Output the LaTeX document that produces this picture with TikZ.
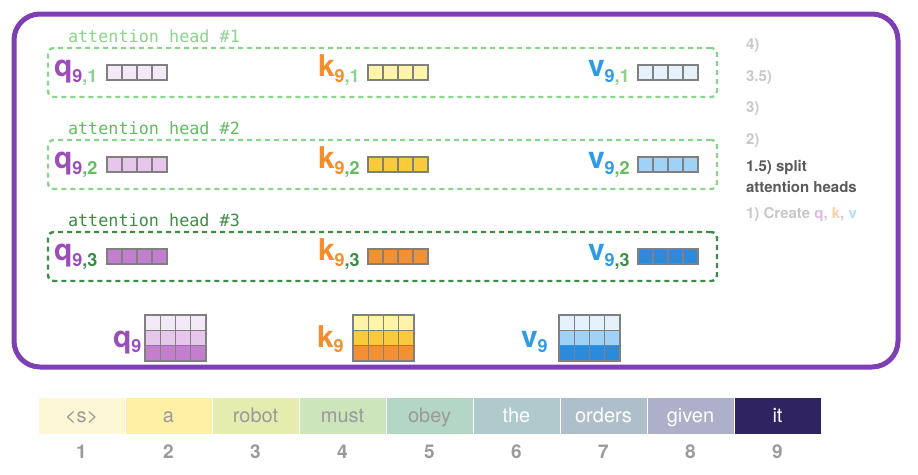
\documentclass[tikz,border=0pt]{standalone}
\usepackage{fontspec}
\setmainfont{TeX Gyre Heros}
\setmonofont{DejaVu Sans Mono}
\usetikzlibrary{positioning}

\definecolor{framecol}{HTML}{7E3FB2}
\definecolor{qcol}{HTML}{9B4DB8}
\definecolor{kcol}{HTML}{F28E2B}
\definecolor{vcol}{HTML}{2D9BE8}
\definecolor{headA}{HTML}{8BD48B}
\definecolor{headB}{HTML}{62BC62}
\definecolor{headC}{HTML}{3C8D44}
\definecolor{qA}{HTML}{F4E9F6}
\definecolor{qB}{HTML}{E6C6EA}
\definecolor{qC}{HTML}{C47ED0}
\definecolor{kA}{HTML}{FFF4A8}
\definecolor{kB}{HTML}{FBC93C}
\definecolor{kC}{HTML}{F29134}
\definecolor{vA}{HTML}{E6F2FB}
\definecolor{vB}{HTML}{9FD2F6}
\definecolor{vC}{HTML}{2B8ADA}
\definecolor{cellgray}{HTML}{808080}
\definecolor{stagegray}{HTML}{C8C8C8}
\definecolor{stagedark}{HTML}{5A5A5A}
\definecolor{numgray}{HTML}{9A9A9A}
\definecolor{tokA}{HTML}{FEF7D6}
\definecolor{tokB}{HTML}{FEF0A5}
\definecolor{tokC}{HTML}{E4EDAE}
\definecolor{tokD}{HTML}{CDE5BA}
\definecolor{tokE}{HTML}{B3D6C5}
\definecolor{tokF}{HTML}{AECACD}
\definecolor{tokG}{HTML}{AFBECB}
\definecolor{tokH}{HTML}{AEB0CA}
\definecolor{tokI}{HTML}{2F2461}

% letter, subscript 9, head number
\newcommand{\qkvlab}[4]{{\fontsize{30}{30}\selectfont\color{#1}#2}\raisebox{-6pt}{\fontsize{18}{18}\selectfont\color{#1}9\color{#3},#4}}
\newcommand{\veclab}[2]{{\fontsize{30}{30}\selectfont\color{#1}#2}\raisebox{-5pt}{\fontsize{18}{18}\selectfont\color{#1}9}}

\begin{document}
\begin{tikzpicture}[
        x=1pt, y=-1pt,
        every node/.style={inner sep=0pt, outer sep=0pt},
        cell/.style={draw=cellgray, line width=1.3pt},
        headbox/.style={dashed, dash pattern=on 5pt off 4pt, line width=2.4pt, rounded corners=6pt,
            minimum width=669pt, minimum height=49pt},
        headlab/.style={font=\fontsize{16.8}{17}\selectfont\ttfamily, anchor=west},
        vlab/.style={font=\bfseries, anchor=base west},
        stage/.style={font=\fontsize{15}{15}\selectfont\bfseries, anchor=west, text=stagegray},
        token/.style={minimum width=86pt, minimum height=36pt, text height=14pt, text depth=2pt,
            font=\fontsize{20}{20}\selectfont},
        num/.style={font=\fontsize{19}{19}\selectfont\bfseries, text=numgray}
    ]
    \useasboundingbox (0,0) rectangle (918,474);
    \draw[framecol, line width=5pt, rounded corners=26pt] (14,14) rectangle (898,367);

    % attention head #1
    \node[headlab, text=headA] (lab1) at (68,36) {attention head \#1};
    \node[headbox, draw=headA] (box1) at (382.5,72.5) {};
    \node[vlab] (q1) at (54,76) {\qkvlab{qcol}{q}{headA}{1}};
    \node[vlab] (k1) at (318,76) {\qkvlab{kcol}{k}{headA}{1}};
    \node[vlab] (v1) at (588,76) {\qkvlab{vcol}{v}{headA}{1}};
    \foreach \j in {0,...,3} {
        \draw[cell, fill=qA] (107+15*\j,65) rectangle ++(15,15);
        \draw[cell, fill=kA] (368+15*\j,65) rectangle ++(15,15);
        \draw[cell, fill=vA] (638+15*\j,65) rectangle ++(15,15);
    }

    % attention head #2
    \node[headlab, text=headB] (lab2) at (68,128) {attention head \#2};
    \node[headbox, draw=headA] (box2) at (382.5,164.5) {};
    \node[vlab] (q2) at (54,168) {\qkvlab{qcol}{q}{headB}{2}};
    \node[vlab] (k2) at (318,168) {\qkvlab{kcol}{k}{headB}{2}};
    \node[vlab] (v2) at (588,168) {\qkvlab{vcol}{v}{headB}{2}};
    \foreach \j in {0,...,3} {
        \draw[cell, fill=qB] (107+15*\j,157) rectangle ++(15,15);
        \draw[cell, fill=kB] (368+15*\j,157) rectangle ++(15,15);
        \draw[cell, fill=vB] (638+15*\j,157) rectangle ++(15,15);
    }

    % attention head #3
    \node[headlab, text=headC] (lab3) at (68,220) {attention head \#3};
    \node[headbox, draw=headC] (box3) at (382.5,256.5) {};
    \node[vlab] (q3) at (54,260) {\qkvlab{qcol}{q}{headC}{3}};
    \node[vlab] (k3) at (318,260) {\qkvlab{kcol}{k}{headC}{3}};
    \node[vlab] (v3) at (588,260) {\qkvlab{vcol}{v}{headC}{3}};
    \foreach \j in {0,...,3} {
        \draw[cell, fill=qC] (107+15*\j,249) rectangle ++(15,15);
        \draw[cell, fill=kC] (368+15*\j,249) rectangle ++(15,15);
        \draw[cell, fill=vC] (638+15*\j,249) rectangle ++(15,15);
    }

    % stages on the right
    \node[stage] (s4) at (746,46) {4)};
    \node[stage] (s35) at (746,78) {3.5)};
    \node[stage] (s3) at (746,109) {3)};
    \node[stage] (s2) at (746,141) {2)};
    \node[stage, text=stagedark] (s15) at (746,168) {1.5) split};
    \node[stage, text=stagedark] (s15b) at (746,187) {attention heads};
    \node[stage] (s1) at (746,215) {1) Create {\color{qB!80!qC}q}, {\color{kC!45}k}, {\color{vB!80}v}};

    % q, k, v of token 9
    \node[vlab] (q9) at (113,347) {\veclab{qcol}{q}};
    \node[vlab] (k9) at (317,347) {\veclab{kcol}{k}};
    \node[vlab] (v9) at (521,347) {\veclab{vcol}{v}};
    \foreach \j in {0,...,3} {
        \draw[cell, fill=qA] (145+15.25*\j,315) rectangle ++(15.25,15.3);
        \draw[cell, fill=qB] (145+15.25*\j,330.3) rectangle ++(15.25,15.3);
        \draw[cell, fill=qC] (145+15.25*\j,345.6) rectangle ++(15.25,15.3);
        \draw[cell, fill=kA] (353+15.25*\j,315) rectangle ++(15.25,15.3);
        \draw[cell, fill=kB] (353+15.25*\j,330.3) rectangle ++(15.25,15.3);
        \draw[cell, fill=kC] (353+15.25*\j,345.6) rectangle ++(15.25,15.3);
        \draw[cell, fill=vA] (559+15.25*\j,315) rectangle ++(15.25,15.3);
        \draw[cell, fill=vB] (559+15.25*\j,330.3) rectangle ++(15.25,15.3);
        \draw[cell, fill=vC] (559+15.25*\j,345.6) rectangle ++(15.25,15.3);
    }

    % input tokens
    \foreach \i/\w/\c/\tc in {1/{<s>}/tokA/numgray, 2/a/tokB/numgray, 3/robot/tokC/numgray,
        4/must/tokD/numgray, 5/obey/tokE/numgray, 6/the/tokF/white, 7/orders/tokG/white,
        8/given/tokH/white, 9/it/tokI/white} {
        \node[token, fill=\c, text=\tc] (t\i) at (81.5+87*\i-87,416) {\w};
        \node[num] (n\i) at (81.5+87*\i-87,452) {\i};
    }
\end{tikzpicture}
\end{document}
